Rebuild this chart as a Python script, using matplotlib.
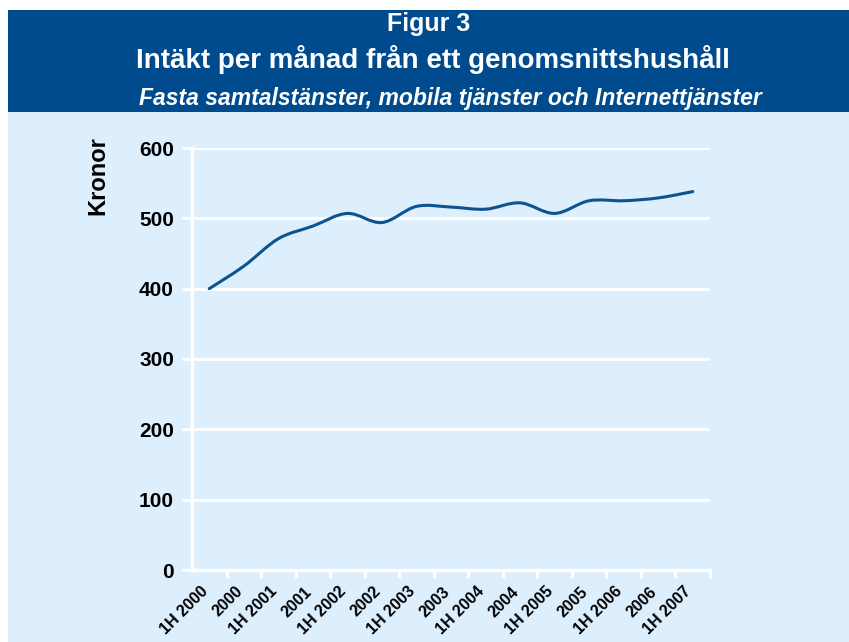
import numpy as np
import matplotlib.pyplot as plt
import matplotlib.transforms as mtransforms
from matplotlib.path import Path
from matplotlib.patches import PathPatch, Rectangle

plt.rcParams['font.family'] = ['Liberation Sans', 'DejaVu Sans']

# data (kronor per month, half-years)
periods = ["1H 2000", "2000", "1H 2001", "2001", "1H 2002", "2002", "1H 2003", "2003",
           "1H 2004", "2004", "1H 2005", "2005", "1H 2006", "2006", "1H 2007"]
kronor = [400, 432, 471, 489, 507, 494, 517, 516, 513, 522, 507, 525, 525, 529, 538]
y_ticks = [0, 100, 200, 300, 400, 500, 600]

BAND = "#004B8D"
BG = "#DDEEFD"
LINE = "#0D5391"


def smooth_path(xs, ys, tension=1 / 6):
    # excel-style smoothed line as cubic bezier segments through the points
    pts = np.column_stack([xs, ys]).astype(float)
    verts = [pts[0]]
    codes = [Path.MOVETO]
    n = len(pts)
    for i in range(n - 1):
        p0 = pts[max(i - 1, 0)]
        p1 = pts[i]
        p2 = pts[i + 1]
        p3 = pts[min(i + 2, n - 1)]
        c1 = p1 + (p2 - p0) * tension
        c2 = p2 - (p3 - p1) * tension
        verts += [c1, c2, p2]
        codes += [Path.CURVE4] * 3
    return Path(verts, codes)


fig = plt.figure(figsize=(8.49, 6.42), dpi=100)
fig.patch.set_facecolor("white")

# background panels
fig.add_artist(Rectangle((8 / 849, 0), 1, 1 - 112 / 642, transform=fig.transFigure,
                         facecolor=BG, edgecolor="none", zorder=0))
fig.add_artist(Rectangle((8 / 849, 1 - 112 / 642), 1, 102 / 642, transform=fig.transFigure,
                         facecolor=BAND, edgecolor="none", zorder=0))

fig.text(0.505, 1 - 24 / 642, "Figur 3", color="white", fontsize=18, fontweight="bold",
         ha="center", va="center")
fig.text(0.51, 1 - 59 / 642, "Intäkt per månad från ett genomsnittshushåll", color="white",
         fontsize=20, fontweight="bold", ha="center", va="center")
fig.text(0.53, 1 - 98 / 642, "Fasta samtalstänster, mobila tjänster och Internettjänster",
         color="white", fontsize=16.5, fontweight="bold", style="italic", ha="center", va="center")

ax = fig.add_axes([192 / 849, 1 - 570 / 642, 518 / 849, 422 / 642])
ax.set_facecolor(BG)

x = np.arange(len(periods))
ax.add_patch(PathPatch(smooth_path(x, kronor), facecolor="none", edgecolor=LINE,
                       linewidth=2.2, capstyle="round", zorder=3))

ax.set_xlim(-0.5, len(periods) - 0.5)
ax.set_ylim(0, 600)
ax.set_yticks(y_ticks)
ax.set_yticklabels([str(v) for v in y_ticks], fontsize=15, fontweight="bold")
ax.yaxis.grid(True, color="white", linewidth=2)
ax.set_axisbelow(True)

ax.set_xticks(x)
ax.set_xticklabels(periods, rotation=45, ha="right", rotation_mode="anchor",
                   fontsize=11.5, fontweight="bold")
ax.set_xticks(np.arange(0.5, len(periods), 1), minor=True)
ax.tick_params(axis="x", which="major", length=0, pad=10)
ax.tick_params(axis="x", which="minor", length=6, width=2, color="white")
ax.tick_params(axis="y", length=7, width=2, color="white", pad=6)

# nudge the slanted labels left, like the excel layout
shift = mtransforms.ScaledTranslation(-9 / 100, 0, fig.dpi_scale_trans)
for lbl in ax.get_xticklabels():
    lbl.set_transform(lbl.get_transform() + shift)

for side in ["top", "right"]:
    ax.spines[side].set_visible(False)
for side in ["left", "bottom"]:
    ax.spines[side].set_color("white")
    ax.spines[side].set_linewidth(2.5)

ax.set_ylabel("Kronor", fontsize=17, fontweight="bold")
ax.yaxis.set_label_coords(-0.16, 0.935)

fig.savefig("out.png", dpi=100)
